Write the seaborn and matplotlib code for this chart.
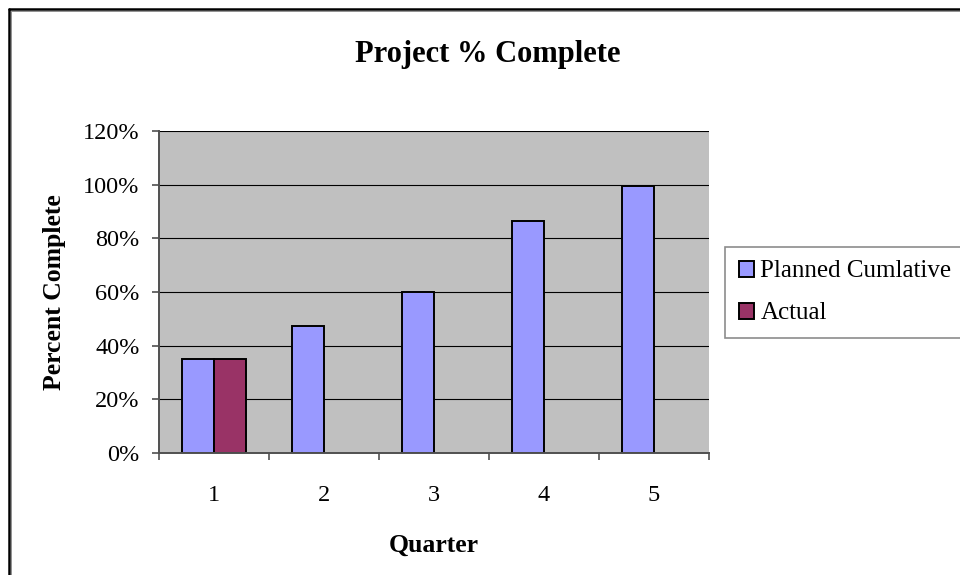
import matplotlib
matplotlib.use("Agg")
import matplotlib.pyplot as plt
import seaborn as sns
import pandas as pd
from matplotlib.lines import Line2D
from matplotlib.ticker import PercentFormatter

# data
quarters = ["1", "2", "3", "4", "5"]
planned = [0.35, 0.475, 0.60, 0.865, 0.995]
actual = [0.35, None, None, None, None]

df = pd.DataFrame({
    "quarter": quarters * 2,
    "value": planned + actual,
    "series": ["Planned Cumlative"] * 5 + ["Actual"] * 5,
})

sns.set_style("white")
plt.rcParams["font.family"] = ["Liberation Serif", "DejaVu Serif"]
plt.rcParams["text.color"] = "black"
plt.rcParams["axes.labelcolor"] = "black"
plt.rcParams["xtick.color"] = "black"
plt.rcParams["ytick.color"] = "black"

fig = plt.figure(figsize=(9.6, 5.75), dpi=100)

# chart border: only top and left edges are inside the crop
bx, by = 9 / 960, 1 - 9 / 575
fig.add_artist(Line2D([bx, bx], [0, by], transform=fig.transFigure, color="black", lw=1.8))
fig.add_artist(Line2D([bx, 1], [by, by], transform=fig.transFigure, color="black", lw=1.8))
gx, gy = 10.8 / 960, 1 - 10.8 / 575
fig.add_artist(Line2D([gx, gx], [0, gy], transform=fig.transFigure, color="#909090", lw=0.7))
fig.add_artist(Line2D([gx, 1], [gy, gy], transform=fig.transFigure, color="#909090", lw=0.7))

ax = fig.add_axes([0.1656, 0.2122, 0.573, 0.560])

sns.barplot(data=df, x="quarter", y="value", hue="series", ax=ax,
            palette={"Planned Cumlative": "#9999FF", "Actual": "#993366"},
            saturation=1, width=0.58, edgecolor="black", linewidth=1.4, legend=True)

ax.set_facecolor("#C0C0C0")
ax.set_ylim(0, 1.2)
ax.set_xlim(-0.5, 4.5)
ax.set_yticks([0, 0.2, 0.4, 0.6, 0.8, 1.0, 1.2])
ax.yaxis.set_major_formatter(PercentFormatter(1.0, decimals=0))
ax.yaxis.grid(True, color="black", linewidth=0.8)
ax.set_axisbelow(True)

# tick marks between categories, labels centred
ax.set_xticks([i - 0.5 for i in range(6)], minor=True)
ax.tick_params(axis="x", which="major", length=0, pad=23, labelsize=17.5)
ax.tick_params(axis="x", which="minor", length=5, width=1.2, color="#505050", direction="out")
ax.tick_params(axis="y", length=5, width=1.2, color="#505050", direction="out",
               labelsize=17.5, pad=9)
ax.xaxis.set_ticks_position("bottom")
ax.yaxis.set_ticks_position("left")

for side in ["top", "right"]:
    ax.spines[side].set_visible(False)
for side in ["left", "bottom"]:
    ax.spines[side].set_color("#505050")
    ax.spines[side].set_linewidth(1.4)

ax.set_xlabel("Quarter", fontsize=18.5, fontweight="bold", labelpad=20)
ax.set_ylabel("Percent Complete", fontsize=18.5, fontweight="bold", labelpad=12)
fig.text(0.508, 0.905, "Project % Complete", fontsize=22, fontweight="bold",
         ha="center", va="center")

handles, labels = ax.get_legend_handles_labels()
ax.get_legend().remove()
leg = fig.legend(handles, labels, loc="upper left", bbox_to_anchor=(0.755, 0.571, 0.30, 0),
                 mode="expand", fontsize=18, frameon=True, fancybox=False, edgecolor="#707070",
                 handlelength=0.62, handleheight=0.62, handletextpad=0.25,
                 labelspacing=0.8, borderpad=0.55, borderaxespad=0)
leg.get_frame().set_linewidth(1.2)
for h in leg.legend_handles:
    h.set_edgecolor("black")
    h.set_linewidth(1.4)

fig.savefig("out.png", dpi=100)
